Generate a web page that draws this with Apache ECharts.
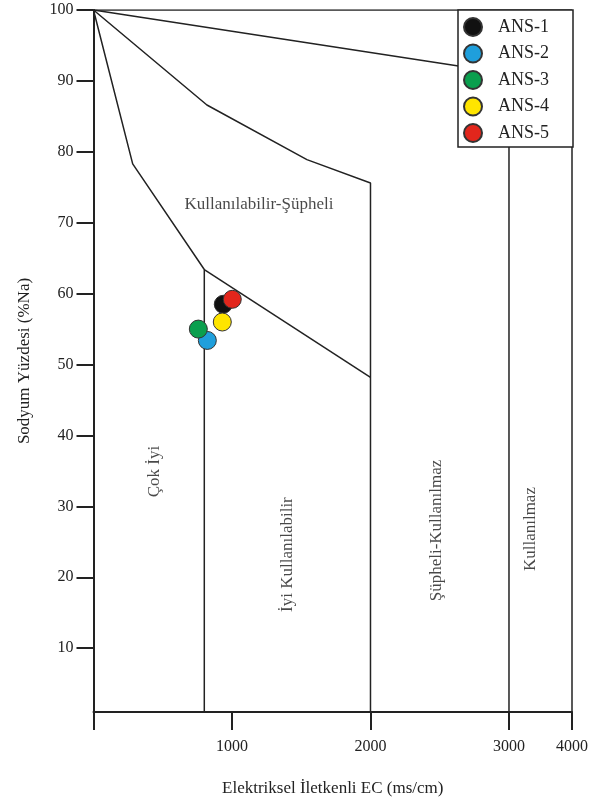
<!DOCTYPE html>
<html>
<head>
<meta charset="utf-8">
<script src="https://cdn.jsdelivr.net/npm/echarts@6/dist/echarts.min.js"></script>
<style>
html,body{margin:0;padding:0;background:#fff;}
#chart{width:597px;height:803px;}
</style>
</head>
<body>
<div id="chart"></div>
<script>
// ---- Data ----
var sampleNames = ['ANS-1', 'ANS-2', 'ANS-3', 'ANS-4', 'ANS-5'];
var sampleEC = [937, 822, 757, 930, 1002];
var sampleNa = [58.5, 53.4, 55.0, 56.0, 59.2];
var sampleColors = ['#111111', '#1f9fdc', '#0a9f4e', '#ffe500', '#e2261c'];

var xTickValues = [0, 1000, 2000, 3000, 4000];
var xLabelValues = [1000, 2000, 3000, 4000];
var yTickValues = [10, 20, 30, 40, 50, 60, 70, 80, 90, 100];

// Wilcox diagram boundaries (EC, %Na)
var boundTop = [[0, 100], [4000, 100]];
var boundRight = [[4000, 100], [4000, 1]];
var boundLine1 = [[0, 100], [3000, 91.0], [3000, 1]];
var boundLine2 = [[0, 100], [819, 86.6], [1541, 78.9], [2000, 75.6], [2000, 1]];
var boundLine3 = [[0, 100], [283, 78.3], [800, 63.4], [800, 1]];
var boundDiag = [[800, 63.4], [2000, 48.2]];

var regionNames = ['Kullanılabilir-Şüpheli', 'Çok İyi', 'İyi Kullanılabilir', 'Şüpheli-Kullanılmaz', 'Kullanılmaz'];
var regionEC = [1195, 444, 1404, 2480, 3334];
var regionNa = [72.5, 34.9, 23.2, 26.6, 26.8];
var regionRotate = [0, 90, 90, 90, 90];

// axis is compressed above 3000
var COMP = 0.455;
function fwd(ec) { return ec <= 3000 ? ec : 3000 + (ec - 3000) * COMP; }
function inv(t) { return t <= 3000 ? t : 3000 + (t - 3000) / COMP; }

var FONT = '"Liberation Serif", "Times New Roman", serif';
var INK = '#222';

function boundSeries(pts) {
  return {
    type: 'line', silent: true, symbol: 'none', animation: false,
    lineStyle: { color: INK, width: 1.5 },
    data: pts.map(function (p) { return [fwd(p[0]), p[1]]; }),
    z: 2
  };
}

var series = [boundTop, boundRight, boundLine1, boundLine2, boundLine3, boundDiag].map(boundSeries);

series.push({
  type: 'scatter', silent: true, symbolSize: 0, animation: false,
  data: regionNames.map(function (n, i) {
    return {
      value: [fwd(regionEC[i]), regionNa[i]],
      label: { show: true, position: 'inside', formatter: n, rotate: regionRotate[i],
               color: '#1a1a1a', fontFamily: FONT, fontSize: 17, textBorderWidth: 0 }
    };
  }),
  z: 3
});

sampleNames.forEach(function (n, i) {
  series.push({
    name: n, type: 'scatter', symbol: 'circle', symbolSize: 18, animation: false,
    itemStyle: { color: sampleColors[i], borderColor: '#333', borderWidth: 1, opacity: 1 },
    data: [[fwd(sampleEC[i]), sampleNa[i]]],
    z: 5
  });
});

var chart = echarts.init(document.getElementById('chart'), null, { renderer: 'canvas' });
chart.setOption({
  backgroundColor: '#fff',
  animation: false,
  grid: { left: 93.5, right: 25, top: 10, bottom: 91, containLabel: false },
  legend: {
    data: sampleNames,
    orient: 'vertical',
    left: 458, top: 10,
    padding: [7, 24, 4, 5],
    itemGap: 6.5,
    itemWidth: 40, itemHeight: 18,
    icon: 'circle',
    backgroundColor: '#fff',
    borderColor: INK, borderWidth: 1.5, borderRadius: 0,
    textStyle: { fontFamily: FONT, fontSize: 18, color: INK },
    z: 10
  },
  xAxis: {
    type: 'value', min: 0, max: fwd(4000),
    name: 'Elektriksel İletkenli EC (ms/cm)',
    nameLocation: 'middle', nameGap: 68,
    nameTextStyle: { fontFamily: FONT, fontSize: 17, color: INK },
    axisLine: { show: true, onZero: false, lineStyle: { color: INK, width: 2 } },
    axisTick: { show: true, length: 18, lineStyle: { color: INK, width: 2 },
                customValues: xTickValues.map(fwd) },
    axisLabel: { show: true, margin: 27, fontFamily: FONT, fontSize: 16, color: INK,
                 customValues: xLabelValues.map(fwd),
                 formatter: function (v) { return String(Math.round(inv(v))); } },
    splitLine: { show: false }
  },
  yAxis: {
    type: 'value', min: 1, max: 100,
    name: 'Sodyum Yüzdesi (%Na)',
    nameLocation: 'middle', nameGap: 60, nameRotate: 90,
    nameTextStyle: { fontFamily: FONT, fontSize: 17, color: INK },
    axisLine: { show: true, onZero: false, lineStyle: { color: INK, width: 2 } },
    axisTick: { show: true, length: 17, lineStyle: { color: INK, width: 2 },
                customValues: yTickValues },
    axisLabel: { show: true, margin: 20, fontFamily: FONT, fontSize: 16, color: INK,
                 customValues: yTickValues },
    splitLine: { show: false }
  },
  series: series
});
</script>
</body>
</html>
